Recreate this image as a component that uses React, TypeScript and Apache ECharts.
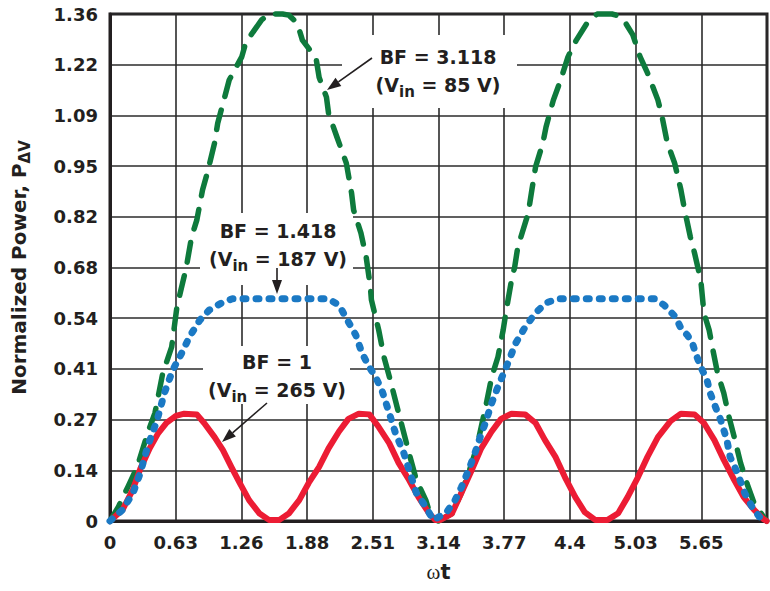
import React, { useEffect, useRef } from "react";
import * as echarts from "echarts";

// ---- data (x in radians, y = normalized power) ----
const xTickLabels = ["0", "0.63", "1.26", "1.88", "2.51", "3.14", "3.77", "4.4", "5.03", "5.65", ""];
const yTickLabels = ["0", "0.14", "0.27", "0.41", "0.54", "0.68", "0.82", "0.95", "1.09", "1.22", "1.36"];

const bf1Curve: [number, number][] = [
  [0, 0], [0.12, 0.03], [0.22, 0.085], [0.29, 0.14], [0.38, 0.195], [0.46, 0.235], [0.54, 0.263],
  [0.63, 0.282], [0.71, 0.288], [0.83, 0.286], [0.9, 0.263], [1.0, 0.225], [1.08, 0.19], [1.16, 0.145],
  [1.24, 0.102], [1.33, 0.056], [1.43, 0.02], [1.52, 0.003], [1.62, 0.003], [1.71, 0.02], [1.81, 0.056],
  [1.9, 0.102], [2.0, 0.145], [2.09, 0.195], [2.19, 0.24], [2.28, 0.274], [2.38, 0.288], [2.48, 0.286],
  [2.57, 0.252], [2.67, 0.209], [2.76, 0.156], [2.86, 0.11], [2.95, 0.064], [3.05, 0.021], [3.11, 0.003],
  [3.16, 0.003], [3.27, 0.02], [3.36, 0.075], [3.46, 0.137], [3.55, 0.195], [3.65, 0.24], [3.74, 0.274],
  [3.84, 0.288], [3.97, 0.286], [4.07, 0.263], [4.16, 0.217], [4.26, 0.172], [4.35, 0.118], [4.45, 0.064],
  [4.54, 0.024], [4.64, 0.003], [4.76, 0.003], [4.86, 0.021], [4.95, 0.064], [5.05, 0.118], [5.14, 0.172],
  [5.24, 0.225], [5.36, 0.268], [5.46, 0.288], [5.59, 0.286], [5.68, 0.263], [5.78, 0.217], [5.87, 0.164],
  [5.97, 0.11], [6.06, 0.064], [6.16, 0.03], [6.25, 0.005], [6.28, 0],
];

const bf1418Curve: [number, number][] = [
  [0, 0], [0.12, 0.03], [0.22, 0.075], [0.29, 0.129], [0.36, 0.2], [0.45, 0.27], [0.52, 0.343],
  [0.6, 0.405], [0.685, 0.45], [0.76, 0.494], [0.86, 0.539], [0.95, 0.566], [1.08, 0.587], [1.17, 0.596],
  [1.5, 0.596], [1.8, 0.596], [2.09, 0.596], [2.19, 0.579], [2.27, 0.539], [2.35, 0.499], [2.41, 0.45],
  [2.48, 0.413], [2.54, 0.386], [2.6, 0.351], [2.67, 0.29], [2.73, 0.236], [2.81, 0.182], [2.86, 0.137],
  [2.93, 0.075], [3.02, 0.038], [3.09, 0.003], [3.21, 0.02], [3.3, 0.056], [3.36, 0.09], [3.43, 0.137],
  [3.49, 0.182], [3.54, 0.225], [3.59, 0.263], [3.65, 0.316], [3.71, 0.36], [3.79, 0.413], [3.88, 0.477],
  [3.97, 0.52], [4.07, 0.558], [4.17, 0.585], [4.28, 0.596], [4.7, 0.596], [5.21, 0.596], [5.3, 0.579],
  [5.41, 0.547], [5.46, 0.517], [5.52, 0.499], [5.57, 0.477], [5.6, 0.45], [5.65, 0.413], [5.71, 0.378],
  [5.74, 0.343], [5.79, 0.306], [5.84, 0.271], [5.9, 0.217], [5.93, 0.172], [6.0, 0.129], [6.07, 0.075],
  [6.14, 0.038], [6.21, 0.011], [6.27, 0],
];

const bf3118Curve: [number, number][] = [
  [0, 0], [0.08, 0.038], [0.17, 0.091], [0.26, 0.145], [0.36, 0.236], [0.43, 0.29], [0.505, 0.397],
  [0.59, 0.467], [0.64, 0.574], [0.67, 0.61], [0.73, 0.681], [0.78, 0.762], [0.83, 0.807], [0.885, 0.888],
  [0.93, 0.933], [1.0, 1.014], [1.03, 1.067], [1.095, 1.135], [1.14, 1.183], [1.26, 1.245], [1.3, 1.285],
  [1.45, 1.344], [1.52, 1.36], [1.65, 1.36], [1.71, 1.357], [1.79, 1.336], [1.84, 1.29], [1.97, 1.242],
  [2.0, 1.19], [2.07, 1.137], [2.09, 1.094], [2.17, 1.03], [2.26, 0.96], [2.31, 0.88], [2.33, 0.834],
  [2.4, 0.772], [2.45, 0.708], [2.49, 0.628], [2.5, 0.593], [2.57, 0.512], [2.62, 0.44], [2.68, 0.378],
  [2.76, 0.29], [2.86, 0.182], [2.93, 0.11], [3.02, 0.056], [3.07, 0.01], [3.14, 0],
  [3.27, 0.02], [3.36, 0.075], [3.43, 0.129], [3.51, 0.2], [3.55, 0.252], [3.6, 0.316], [3.65, 0.386],
  [3.71, 0.44], [3.76, 0.512], [3.79, 0.566], [3.84, 0.646], [3.87, 0.681], [3.9, 0.735], [4.0, 0.826],
  [4.03, 0.88], [4.07, 0.95], [4.14, 1.014], [4.17, 1.057], [4.24, 1.129], [4.31, 1.183], [4.38, 1.245],
  [4.46, 1.29], [4.57, 1.339], [4.66, 1.36], [4.8, 1.36], [4.86, 1.355], [4.93, 1.336], [5.0, 1.304],
  [5.07, 1.245], [5.14, 1.202], [5.24, 1.129], [5.28, 1.084], [5.33, 1.014], [5.4, 0.96], [5.46, 0.888],
  [5.49, 0.842], [5.55, 0.762], [5.59, 0.719], [5.65, 0.646], [5.68, 0.558], [5.73, 0.512], [5.76, 0.467],
  [5.81, 0.397], [5.87, 0.343], [5.92, 0.279], [5.97, 0.225], [6.03, 0.156], [6.09, 0.102], [6.16, 0.048],
  [6.25, 0.011], [6.28, 0],
];

const X_MAX = 2 * Math.PI;
const X_STEP = Math.PI / 5;
const Y_MAX = 1.36;
const Y_STEP = 0.136;

const INK = "#231f20";
const FONT = "DejaVu Sans";

function arrow(x1: number, y1: number, x2: number, y2: number, headLen = 14, halfW = 5) {
  const dx = x2 - x1;
  const dy = y2 - y1;
  const len = Math.sqrt(dx * dx + dy * dy);
  const ux = dx / len;
  const uy = dy / len;
  const bx = x2 - ux * headLen;
  const by = y2 - uy * headLen;
  const nx = -uy;
  const ny = ux;
  return [
    {
      type: "line",
      z: 100,
      shape: { x1, y1, x2: bx, y2: by },
      style: { stroke: INK, lineWidth: 1.6 },
    },
    {
      type: "polygon",
      z: 100,
      shape: {
        points: [
          [x2, y2],
          [bx + nx * halfW, by + ny * halfW],
          [bx - nx * halfW, by - ny * halfW],
        ],
      },
      style: { fill: INK },
    },
  ];
}

const annRich = {
  b: { fontSize: 19, fontWeight: "bold", fontFamily: FONT, fill: INK, lineHeight: 28 },
  s: { fontSize: 15, fontWeight: "bold", fontFamily: FONT, fill: INK, verticalAlign: "bottom", lineHeight: 14 },
};

function annotation(cx: number, cy: number, line1: string, vin: string, box: [number, number, number, number]) {
  return [
    {
      type: "rect",
      z: 1,
      shape: { x: box[0], y: box[1], width: box[2] - box[0], height: box[3] - box[1] },
      style: { fill: "#ffffff" },
    },
    {
      type: "text",
      z: 100,
      x: cx,
      y: cy,
      style: {
        text: `{b|${line1}}\n{b|(V}{s|in}{b| = ${vin})}`,
        rich: annRich,
        align: "center",
        verticalAlign: "middle",
      },
    },
  ];
}

export default function App() {
  const ref = useRef<HTMLDivElement>(null);

  useEffect(() => {
    if (!ref.current) return;
    const chart = echarts.init(ref.current, null, { renderer: "svg" });

    const option = {
      animation: false,
      backgroundColor: "#ffffff",
      grid: {
        left: 110,
        right: 0,
        top: 14,
        bottom: 70,
        show: true,
        borderColor: INK,
        borderWidth: 3,
        backgroundColor: "transparent",
      },
      xAxis: {
        type: "value",
        min: 0,
        max: X_MAX,
        interval: X_STEP,
        name: "{w|ω}{t|t}",
        nameLocation: "middle",
        nameGap: 40,
        nameTextStyle: {
          rich: {
            w: { fontSize: 21, fontFamily: "Liberation Serif", color: INK },
            t: { fontSize: 21, fontWeight: "bold", fontFamily: FONT, color: INK },
          },
        },
        axisLine: { show: true, lineStyle: { color: INK, width: 3 } },
        axisTick: { show: false },
        axisLabel: {
          margin: 12,
          fontSize: 18,
          fontWeight: "bold",
          fontFamily: FONT,
          color: INK,
          formatter: (v: number) => xTickLabels[Math.round(v / X_STEP)] ?? "",
        },
        splitLine: { show: true, lineStyle: { color: "#2b2b2b", width: 1.6 } },
      },
      yAxis: {
        type: "value",
        min: 0,
        max: Y_MAX,
        interval: Y_STEP,
        name: "{a|Normalized Power, P}{b|ΔV}",
        nameLocation: "middle",
        nameGap: 78,
        nameRotate: 90,
        nameTextStyle: {
          rich: {
            a: { fontSize: 20, fontWeight: "bold", fontFamily: FONT, color: INK, lineHeight: 26 },
            b: { fontSize: 15, fontWeight: "bold", fontFamily: FONT, color: INK, verticalAlign: "bottom", lineHeight: 14 },
          },
        },
        axisLine: { show: true, lineStyle: { color: INK, width: 3 } },
        axisTick: { show: false },
        axisLabel: {
          margin: 12,
          fontSize: 18,
          fontWeight: "bold",
          fontFamily: FONT,
          color: INK,
          formatter: (v: number) => yTickLabels[Math.round(v / Y_STEP)] ?? "",
        },
        splitLine: { show: true, lineStyle: { color: "#2b2b2b", width: 1.6 } },
      },
      graphic: [
        ...annotation(438, 71, "BF = 3.118", "85 V", [342, 35, 517, 108]),
        ...annotation(278, 245, "BF = 1.418", "187 V", [200, 213, 353, 285]),
        ...annotation(277, 376, "BF = 1", "265 V", [203, 346, 350, 404]),
        ...arrow(372, 58, 327, 90),
        ...arrow(277, 268, 277, 294),
        ...arrow(267, 403, 222, 442),
      ],
      series: [
        {
          name: "BF = 1",
          type: "line",
          data: bf1Curve,
          showSymbol: false,
          clip: false,
          z: 3,
          lineStyle: { color: "#ec1c34", width: 6, cap: "round", join: "round" },
        },
        {
          name: "BF = 1.418",
          type: "line",
          data: bf1418Curve,
          showSymbol: false,
          clip: false,
          z: 4,
          lineStyle: { color: "#1b79c4", width: 7, type: [3, 10], cap: "round", join: "round" },
        },
        {
          name: "BF = 3.118",
          type: "line",
          data: bf3118Curve,
          showSymbol: false,
          clip: false,
          z: 2,
          lineStyle: { color: "#0e7a3c", width: 5.5, type: [20, 14], cap: "round", join: "round" },
        },
      ],
    };

    chart.setOption(option as any);
    return () => {
      chart.dispose();
    };
  }, []);

  return (
    <div
      ref={ref}
      style={{ position: "fixed", left: 0, top: 0, width: 770, height: 591, background: "#fff" }}
    />
  );
}
